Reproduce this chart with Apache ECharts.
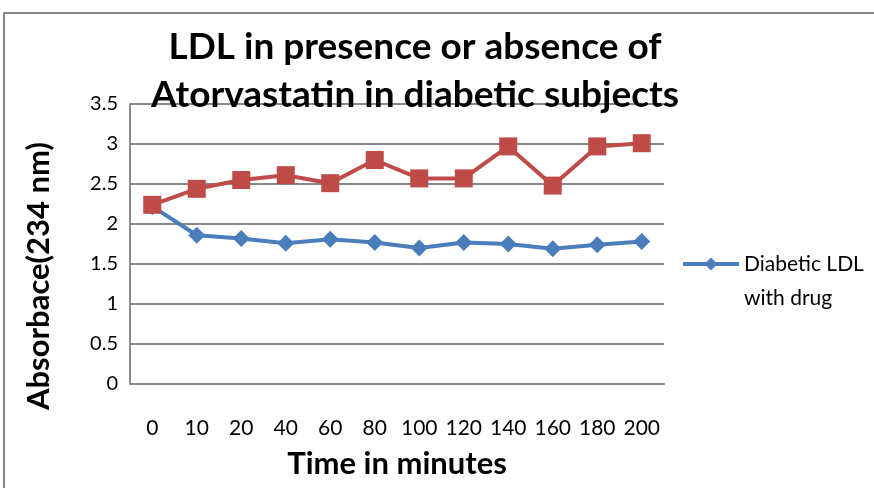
<!DOCTYPE html>
<html><head><meta charset="utf-8">
<script src="https://cdn.jsdelivr.net/npm/echarts@6/dist/echarts.min.js"></script>
<style>html,body{margin:0;padding:0;background:#fff}#c{width:874px;height:488px}</style>
</head><body><div id="c"></div>
<script>
var categories = ['0','10','20','40','60','80','100','120','140','160','180','200'];
var withDrug = [2.22,1.86,1.82,1.76,1.81,1.77,1.70,1.77,1.75,1.69,1.74,1.78];
var withoutDrug = [2.24,2.44,2.55,2.61,2.51,2.80,2.57,2.57,2.97,2.48,2.97,3.01];
var yTicks = ['0','0.5','1','1.5','2','2.5','3','3.5'];

var chart = echarts.init(document.getElementById('c'));
var F = 'Lato, "Open Sans", sans-serif';
chart.setOption({
  animation: false,
  backgroundColor: '#fff',
  graphic: [{type:'rect', shape:{x:4,y:13,width:900,height:500}, style:{fill:'none', stroke:'#888', lineWidth:2}, z:-1}],
  title: {text:'LDL in presence or absence of\nAtorvastatin in diabetic subjects', left:410, top:18, textAlign:'center',
    textStyle:{fontFamily:F, fontWeight:'bold', fontSize:37, lineHeight:48, color:'#000'}},
  legend: {data:['Diabetic LDL\nwith drug'], left:676, top:208, orient:'vertical', itemWidth:56, itemHeight:16, itemGap:4,
    lineStyle:{width:4},
    formatter:function(n){return ' \n' + n;},
    textStyle:{fontFamily:F, fontSize:21, lineHeight:34, color:'#000'}},
  grid: {left:130, right:210, top:104, bottom:104, outerBoundsMode:'none', containLabel:false},
  xAxis: {type:'category', data:categories, boundaryGap:true,
    name:'Time in minutes', nameLocation:'middle', nameGap:64,
    nameTextStyle:{fontFamily:F, fontWeight:'bold', fontSize:31, color:'#000'},
    axisLine:{lineStyle:{color:'#888', width:2}}, axisTick:{show:false},
    axisLabel:{fontFamily:F, fontSize:21, color:'#000', margin:34, interval:0}},
  yAxis: {type:'value', min:0, max:3.5, interval:0.5,
    name:'Absorbace(234 nm)', nameLocation:'middle', nameGap:76,
    nameTextStyle:{fontFamily:F, fontWeight:'bold', fontSize:31, color:'#000', padding:[0,64,0,0]},
    axisLine:{show:true, lineStyle:{color:'#888', width:2}}, axisTick:{show:false},
    splitLine:{lineStyle:{color:'#888', width:2}},
    axisLabel:{fontFamily:F, fontSize:20, color:'#000', margin:12, formatter:function(v){return String(v);}}},
  series: [
    {name:'Diabetic LDL\nwith drug', type:'line', data:withDrug, symbol:'diamond', symbolSize:17,
      lineStyle:{color:'#4a7ebb', width:4}, itemStyle:{color:'#4a7ebb'}, z:2},
    {name:'Diabetic LDL without drug', type:'line', data:withoutDrug, symbol:'rect', symbolSize:18,
      lineStyle:{color:'#be4b48', width:4}, itemStyle:{color:'#be4b48'}, z:3}
  ]
});
</script></body></html>
